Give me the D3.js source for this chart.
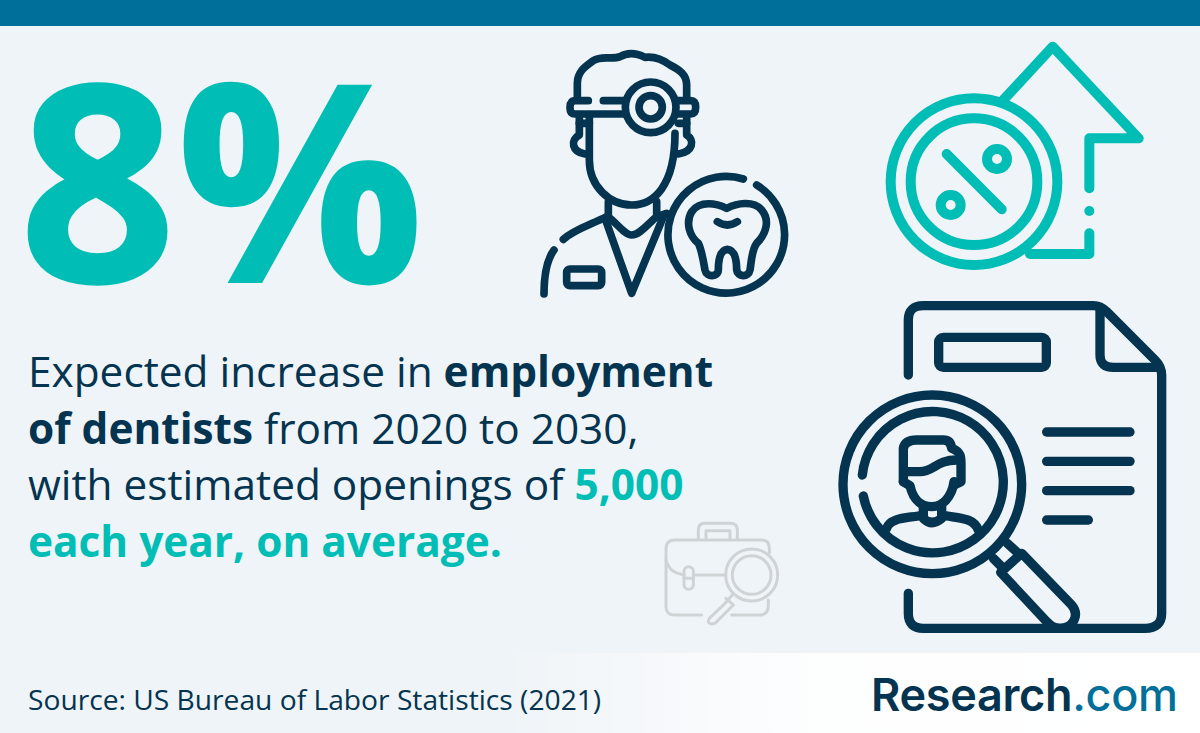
<!DOCTYPE html>
<html>
<head>
<meta charset="utf-8">
<script src="https://cdn.jsdelivr.net/npm/d3@7"></script>
<style>
  html, body { margin: 0; padding: 0; background: #eff4f8; }
  svg { display: block; }
  text { font-family: "Open Sans", sans-serif; }
</style>
</head>
<body>
<svg id="chart" width="1200" height="733"></svg>
<script>
const headline = '8%';
const lineOne = [['Expected increase in ', 'plain'], ['employment', 'strong']];
const lineTwo = [['of dentists', 'strong'], [' from 2020 to 2030,', 'plain']];
const lineThree = [['with estimated openings of ', 'plain'], ['5,000', 'accent']];
const lineFour = [['each year, on average.', 'accent']];
const messageLines = [lineOne, lineTwo, lineThree, lineFour];
const sourceLabel = 'Source: US Bureau of Labor Statistics (2021)';
const brandName = 'Research';
const brandSuffix = '.com';

const NAVY = '#04344f', TEAL = '#00bdb5', BLUE = '#006f99', GREY = '#cfd3d6';
const svg = d3.select('#chart');

// page background, top bar, faded footer band
svg.append('rect').attr('width', 1200).attr('height', 733).attr('fill', '#eff4f8');
svg.append('rect').attr('width', 1200).attr('height', 26).attr('fill', BLUE);
const fade = svg.append('defs').append('linearGradient').attr('id', 'fade');
fade.append('stop').attr('offset', '0').attr('stop-color', '#fff').attr('stop-opacity', 0);
fade.append('stop').attr('offset', '0.45').attr('stop-color', '#fff').attr('stop-opacity', 0.9);
fade.append('stop').attr('offset', '1').attr('stop-color', '#fff').attr('stop-opacity', 1);
svg.append('rect').attr('x', 500).attr('y', 653).attr('width', 700).attr('height', 80).attr('fill', 'url(#fade)');

// big number
svg.append('text').attr('x', 19).attr('y', 282)
    .attr('font-size', 275).attr('font-weight', 700).attr('fill', TEAL)
    .attr('stroke', TEAL).attr('stroke-width', 2)
    .text(headline);

// message, one text per line with tspans for the bold runs
const runStyle = {
    plain: { weight: 400, fill: NAVY },
    strong: { weight: 700, fill: NAVY },
    accent: { weight: 700, fill: TEAL }
};
const lineY = d3.scaleLinear().domain([0, 3]).range([387, 556.5]);
svg.selectAll('text.message').data(messageLines).join('text')
    .attr('class', 'message')
    .attr('x', 28)
    .attr('y', (d, i) => lineY(i))
    .attr('font-size', 42.35)
    .attr('xml:space', 'preserve')
    .selectAll('tspan').data(d => d).join('tspan')
    .attr('font-weight', d => runStyle[d[1]].weight)
    .attr('fill', d => runStyle[d[1]].fill)
    .style('white-space', 'pre')
    .text(d => d[0]);

svg.append('text').attr('x', 28).attr('y', 710)
    .attr('font-size', 28.2).attr('fill', NAVY).text(sourceLabel);

const brand = svg.append('text').attr('x', 871).attr('y', 710.5)
    .attr('font-size', 45).attr('font-weight', 600)
    .attr('textLength', 307).attr('lengthAdjust', 'spacing')
    .style('font-family', 'Inter, sans-serif');
brand.append('tspan').attr('fill', NAVY).text(brandName);
brand.append('tspan').attr('fill', BLUE).attr('font-weight', 500).text(brandSuffix);

// icons: traced in 3x coordinates, scaled down on placement
function icon(x, y, color, width) {
    return svg.append('g')
        .attr('transform', `translate(${x},${y}) scale(${1 / 3})`)
        .attr('fill', 'none')
        .attr('stroke', color)
        .attr('stroke-width', width)
        .attr('stroke-linecap', 'round')
        .attr('stroke-linejoin', 'round');
}
function addPaths(g, paths) {
    g.selectAll('path').data(paths).join('path').attr('d', d => d);
}
function addCircles(g, circles) {
    g.selectAll('circle').data(circles).join('circle')
        .attr('cx', d => d[0]).attr('cy', d => d[1]).attr('r', d => d[2]);
}

const dentist = icon(530, 40, NAVY, 23);
addPaths(dentist, [
    'M142,175 V130 C142,95 165,80 190,62 C215,45 245,60 270,50 C295,35 325,42 345,52 C375,48 400,60 420,75 C450,90 470,105 470,135 V175',
    'M175,182 H135 Q120,182 120,203 Q120,222 135,222 H285',
    'M220,182 H285',
    'M445,182 H482 Q497,182 497,202 Q497,222 482,222 H445',
    'M178,225 V360 C178,440 240,495 305,495 C370,495 435,440 435,280',
    'M148,225 V285 C120,300 125,335 165,342',
    'M148,250 H178',
    'M470,225 V285 C495,300 490,335 445,342',
    'M445,250 H470',
    'M235,485 V530 C260,550 285,585 305,585 C330,585 355,550 380,530 V485',
    'M225,535 L305,760 L400,530',
    'M100,598 C130,570 180,555 230,530',
    'M380,530 L410,520',
    'M72,630 C50,660 42,710 42,762',
    'M680,435 A175,175 0 1 1 640,417',
    'M590,505 C560,490 510,480 485,515 C465,550 480,590 505,610 C515,630 520,660 525,690 C530,715 565,710 565,690 C565,660 570,630 592,628 C615,630 620,660 620,690 C622,710 655,715 660,690 C665,660 665,630 680,610 C710,580 720,540 695,510 C670,480 620,490 590,505Z',
    'M562,545 Q592,565 622,545'
]);
dentist.append('rect').attr('x', 110).attr('y', 687).attr('width', 105).attr('height', 50).attr('rx', 10);
dentist.append('g').call(g => addCircles(g, [[362, 202, 76], [362, 202, 35]]));

const growth = icon(870, 30, TEAL, 30);
addPaths(growth, [
    'M400,210 L548,50 L806,325 H658 V475',
    'M658,610 V672 H480',
    'M230,372 L395,538',
    'M658,543 v0.1'
]);
addCircles(growth, [[312, 455, 250], [312, 455, 190], [381, 387, 30], [242, 525, 30]]);

const resume = icon(830, 295, NAVY, 28);
addPaths(resume, [
    'M235,240 V75 Q235,32 280,32 H790 C810,32 820,40 830,50 L975,195 C990,210 995,225 995,240 V955 Q995,1000 945,1000 H280 Q235,1000 235,955 V895',
    'M810,40 V180 Q810,217 850,217 H985',
    'M650,411 H900', 'M650,499 H900', 'M650,587 H900', 'M650,675 H775',
    'M97,540 A212,212 0 1 1 100,603',
    'M220,560 V460 Q225,435 260,435 H340 Q362,435 365,460 C395,470 393,490 393,510 V560 L372,570',
    'M225,530 H270 C310,530 320,495 380,495',
    'M220,560 L240,572 C250,620 280,635 305,635 C335,635 365,610 372,560',
    'M280,635 V670 Q305,695 335,670 V635',
    'M170,700 C180,665 240,670 280,660',
    'M335,660 C380,670 430,665 445,705',
    'M532,745 L565,775', 'M490,790 L520,820',
    'M512,832 L575,775 L725,930 C750,960 730,1000 690,1000 C670,1000 660,990 650,980 Z'
]);
addCircles(resume, [[307, 568, 268]]);
resume.append('rect').attr('x', 326).attr('y', 127).attr('width', 323).attr('height', 90).attr('rx', 14);

const caseIcon = icon(650, 510, GREY, 9);
addPaths(caseIcon, [
    'M155,315 H75 Q48,315 48,290 V115 Q48,90 75,90 H335 Q358,90 358,115 V130',
    'M245,315 H330 Q355,315 355,285 V270',
    'M48,150 C60,190 85,190 102,195',
    'M130,195 H225',
    'M102,205 H130',
    'M145,88 V60 Q145,40 165,40 H240 Q262,40 262,60 V88',
    'M168,88 V62 H240 V88',
    'M247,255 L225,280',
    'M228,265 L250,285',
    'M225,280 L178,325 Q170,340 185,342 L195,340 L250,285'
]);
caseIcon.append('rect').attr('x', 102).attr('y', 170).attr('width', 28).attr('height', 68).attr('rx', 14);
addCircles(caseIcon, [[305, 195, 78], [305, 195, 58]]);
</script>
</body>
</html>
